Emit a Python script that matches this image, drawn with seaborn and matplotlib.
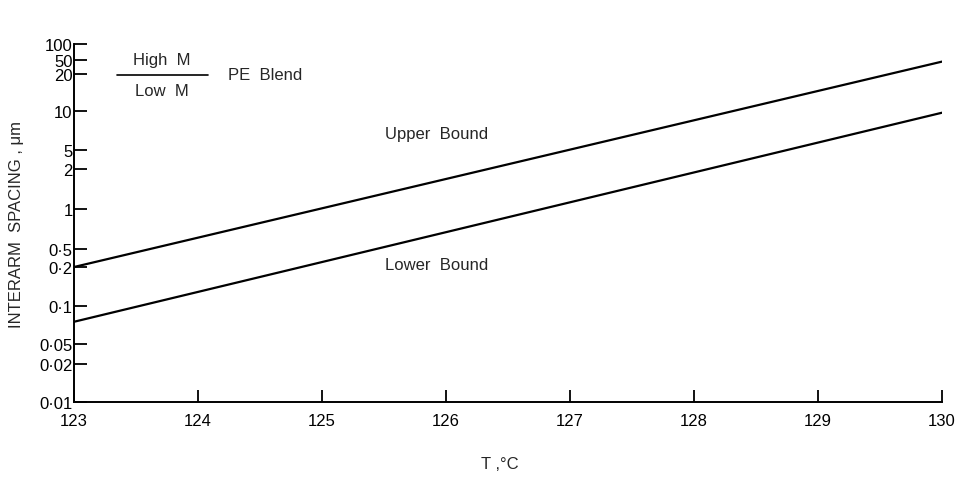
import numpy as np
import pandas as pd
import matplotlib
matplotlib.use("Agg")
import matplotlib.pyplot as plt
from matplotlib.lines import Line2D
import seaborn as sns

# ---- data ----
temperature = [123, 130]
upper_bound = [0.2, 45.0]     # interarm spacing, um
lower_bound = [0.075, 9.7]
x_ticks = [123, 124, 125, 126, 127, 128, 129, 130]
y_tick_values = [0.01, 0.02, 0.05, 0.1, 0.2, 0.5, 1, 2, 5, 10, 20, 50, 100]
y_tick_labels = ["0·01", "0·02", "0·05", "0·1", "0·2", "0·5", "1", "2", "5",
                 "10", "20", "50", "100"]
# printed (non-uniform) spacing of the original graph paper, in relative units
y_tick_spacing = [0, 38, 58, 96, 135, 153, 193, 233, 252, 291, 328, 342, 358]

df = pd.DataFrame({
    "T": temperature * 2,
    "spacing": upper_bound + lower_bound,
    "bound": ["Upper Bound"] * 2 + ["Lower Bound"] * 2,
})

sns.set_theme(style="ticks")
plt.rcParams["font.family"] = ["Liberation Sans", "DejaVu Sans"]

W, H = 959, 481
fig = plt.figure(figsize=(W / 100, H / 100), dpi=100)
L, R, T_, B = 74, 942, 45, 403
ax = fig.add_axes([L / W, 1 - B / H, (R - L) / W, (B - T_) / H])

logs = np.log10(y_tick_values)
pos = np.array(y_tick_spacing, dtype=float)

def fwd(v):
    v = np.clip(np.asarray(v, dtype=float), 1e-6, None)
    return np.interp(np.log10(v), logs, pos)

def inv(p):
    return 10 ** np.interp(np.asarray(p, dtype=float), pos, logs)

ax.set_yscale("function", functions=(fwd, inv))

sns.lineplot(data=df, x="T", y="spacing", units="bound", estimator=None,
             color="black", linewidth=1.6, ax=ax, legend=False)

ax.set_xlim(123, 130)
ax.set_ylim(0.01, 100)
ax.set_xticks(x_ticks)
ax.set_xticklabels([str(t) for t in x_ticks])
ax.set_yticks(y_tick_values)
ax.set_yticklabels(y_tick_labels)
ax.yaxis.set_minor_locator(matplotlib.ticker.NullLocator())
ax.xaxis.set_minor_locator(matplotlib.ticker.NullLocator())

for s in ["top", "right"]:
    ax.spines[s].set_visible(False)
for s in ["left", "bottom"]:
    ax.spines[s].set_linewidth(1.4)
    ax.spines[s].set_color("black")
ax.tick_params(axis="both", direction="in", length=9, width=1.3,
               colors="black", labelsize=12)
ax.tick_params(axis="y", pad=1)
ax.tick_params(axis="x", pad=8)
ax.set_facecolor("white")
ax.grid(False)

ax.set_xlabel("")
ax.set_ylabel("")
fig.text(500 / W, 1 - 465 / H, "T ,°C", ha="center", va="center", fontsize=12)
fig.text(17 / W, 1 - 225 / H, "INTERARM  SPACING , μm", ha="center",
         va="center", rotation=90, fontsize=12)

# legend-like caption
fig.text(162 / W, 1 - 61 / H, "High  M", ha="center", va="center", fontsize=12)
fig.text(162 / W, 1 - 92 / H, "Low  M", ha="center", va="center", fontsize=12)
fig.add_artist(Line2D([117 / W, 208 / W], [1 - 76 / H, 1 - 76 / H],
                      color="black", linewidth=1.2, transform=fig.transFigure))
fig.text(228 / W, 1 - 76 / H, "PE  Blend", ha="left", va="center", fontsize=12)

fig.text(437 / W, 1 - 134 / H, "Upper  Bound", ha="center", va="center", fontsize=12)
fig.text(437 / W, 1 - 266 / H, "Lower  Bound", ha="center", va="center", fontsize=12)

fig.savefig("out.png", dpi=100, facecolor="white")
